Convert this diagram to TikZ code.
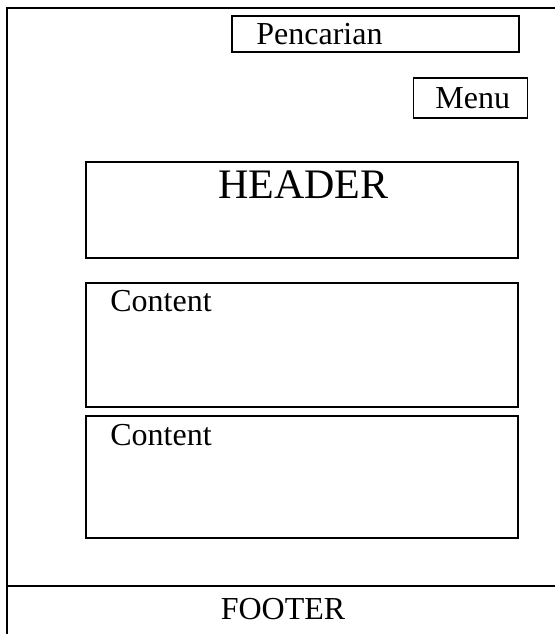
\documentclass[tikz,border=0pt]{standalone}
\usepackage{fontspec}
\setmainfont{Liberation Serif}
\usetikzlibrary{positioning, calc}

\begin{document}
\begin{tikzpicture}[
  x=0.5pt, y=-0.5pt,
  frame/.style={draw=black, line width=0.7pt, minimum width=#1, inner sep=0pt},
  boxlabel/.style={inner sep=0pt, font=\fontsize{16}{19}\selectfont},
]
  \useasboundingbox (0,0) rectangle (555,634);
  \clip (0,0) rectangle (555,634);

  % Page frame
  \draw[line width=0.7pt] (7,8) rectangle (562,642);
  \coordinate (footl) at (7,586);
  \coordinate (footr) at (562,586);
  \draw[line width=0.7pt] (footl) -- (footr);

  % Boxes
  \node[frame=143.5pt, minimum height=18pt] (search) at (375.5,34) {};
  \node[frame=57pt, minimum height=20pt] (menu) at (470.5,98) {};
  \node[frame=216pt, minimum height=48pt] (header) at (302,210) {};
  \node[frame=216pt, minimum height=62pt] (contenta) at (302,345) {};
  \node[frame=216pt, minimum height=61pt] (contentb) at (302,477) {};

  % Labels
  \node[boxlabel, anchor=base west] (searchtxt) at (256,44) {Pencarian};
  \node[boxlabel, anchor=base west] (menutxt) at (435,108) {Menu};
  \node[boxlabel, anchor=base, font=\fontsize{21}{25}\selectfont] (headertxt) at (303.5,198) {HEADER};
  \node[boxlabel, anchor=base west] (contentatxt) at (110,311) {Content};
  \node[boxlabel, anchor=base west] (contentbtxt) at (110,445) {Content};
  \node[boxlabel, anchor=base] (footertxt) at (283,619) {FOOTER};
\end{tikzpicture}
\end{document}
